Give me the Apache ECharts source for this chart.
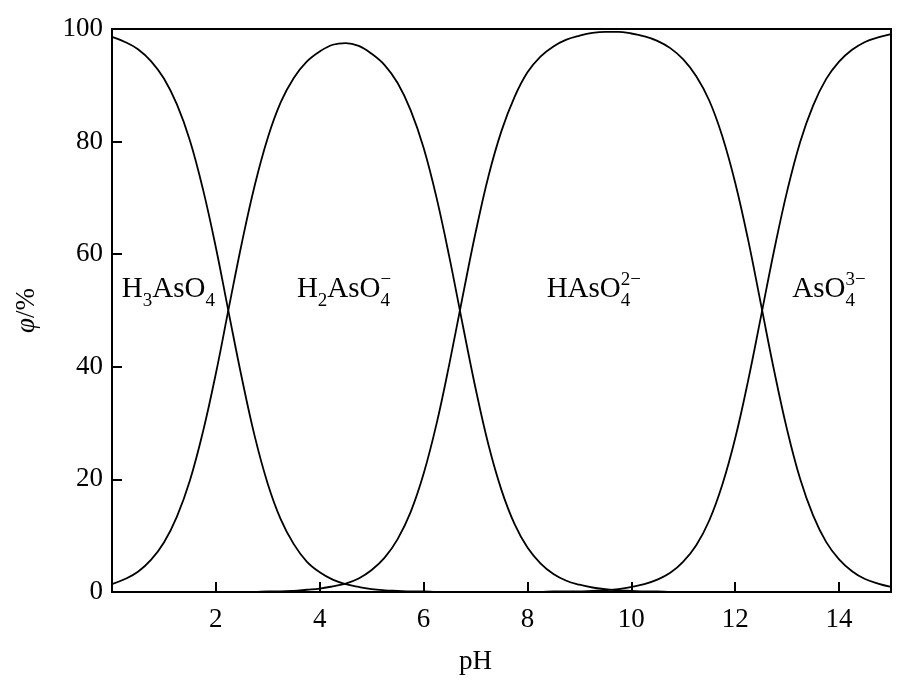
<!DOCTYPE html>
<html>
<head>
<meta charset="utf-8">
<script src="https://cdn.jsdelivr.net/npm/echarts@6/dist/echarts.min.js"></script>
<style>
  html, body { margin: 0; background: #fff; }
  #chart { width: 907px; height: 697px; }
</style>
</head>
<body>
<div id="chart"></div>
<script>
// pH grid (x) and species fractions φ/%
const ph = [
  0, 0.25, 0.5, 0.75, 1, 1.25, 1.5, 1.75, 2, 2.25, 2.5, 2.75,
  3, 3.25, 3.5, 3.75, 4, 4.25, 4.5, 4.75, 5, 5.25, 5.5, 5.75,
  6, 6.25, 6.5, 6.75, 7, 7.25, 7.5, 7.75, 8, 8.25, 8.5, 8.75,
  9, 9.25, 9.5, 9.75, 10, 10.25, 10.5, 10.75, 11, 11.25, 11.5, 11.75,
  12, 12.25, 12.5, 12.75, 13, 13.25, 13.5, 13.75, 14, 14.25, 14.5, 14.75, 15
]
const h3aso4 = [
  98.6, 97.7, 96.4, 94.3, 91.2, 86.6, 80.2, 71.6, 61.2, 49.5, 38.0, 27.6,
  19.2, 12.9, 8.5, 5.4, 3.5, 2.2, 1.4, 0.9, 0.5, 0.3, 0.2, 0.1,
  0.1, 0, 0, 0, 0, 0, 0, 0, 0, 0, 0, 0,
  0, 0, 0, 0, 0, 0, 0, 0, 0, 0, 0, 0,
  0, 0, 0, 0, 0, 0, 0, 0, 0, 0, 0, 0, 0
]
const h2aso4 = [
  1.4, 2.3, 3.6, 5.7, 8.8, 13.4, 19.8, 28.4, 38.8, 50.5, 62.0, 72.3,
  80.7, 87.0, 91.3, 94.2, 96.0, 97.2, 97.5, 97.0, 95.6, 93.6, 90.4, 85.6,
  78.9, 70.0, 59.3, 47.6, 36.2, 26.1, 18.1, 12.1, 7.9, 5.1, 3.2, 2.0,
  1.3, 0.8, 0.5, 0.3, 0.2, 0.1, 0.1, 0, 0, 0, 0, 0,
  0, 0, 0, 0, 0, 0, 0, 0, 0, 0, 0, 0, 0
]
const haso4 = [
  0, 0, 0, 0, 0, 0, 0, 0, 0, 0, 0, 0,
  0.1, 0.1, 0.2, 0.4, 0.6, 1.0, 1.5, 2.4, 3.9, 6.1, 9.4, 14.2,
  21.0, 29.9, 40.7, 52.4, 63.8, 73.9, 81.9, 87.9, 92.3, 95.1, 96.9, 98.1,
  98.8, 99.3, 99.5, 99.5, 99.2, 98.7, 97.9, 96.6, 94.6, 91.6, 87.3, 81.0,
  72.7, 62.5, 50.9, 39.3, 28.8, 20.1, 13.6, 8.9, 5.8, 3.7, 2.3, 1.5, 0.9
]
const aso4 = [
  0, 0, 0, 0, 0, 0, 0, 0, 0, 0, 0, 0,
  0, 0, 0, 0, 0, 0, 0, 0, 0, 0, 0, 0,
  0, 0, 0, 0, 0, 0, 0, 0, 0, 0, 0.1, 0.1,
  0.1, 0.2, 0.3, 0.5, 0.9, 1.4, 2.2, 3.4, 5.4, 8.3, 12.7, 19.0,
  27.3, 37.6, 49.1, 60.7, 71.2, 79.9, 86.4, 91.1, 94.2, 96.3, 97.7, 98.5, 99.1
]

// species names: plain text, subscript, stacked sub/superscript
const speciesLabels = [
  { at: [0.19, 53.8], parts: [{ t: 'H' }, { sub: '3' }, { t: 'AsO' }, { sub: '4' }] },
  { at: [3.56, 53.8], parts: [{ t: 'H' }, { sub: '2' }, { t: 'AsO' }, { sub: '4', sup: '−' }] },
  { at: [8.37, 53.8], parts: [{ t: 'HAsO' }, { sub: '4', sup: '2−' }] },
  { at: [13.1, 53.8], parts: [{ t: 'AsO' }, { sub: '4', sup: '3−' }] }
]

const FONT = '"Liberation Serif", "Times New Roman", serif'
const chart = echarts.init(document.getElementById('chart'))

const pairs = arr => ph.map((x, i) => [x, arr[i]])
const curve = arr => ({
  type: 'line',
  data: pairs(arr),
  showSymbol: false,
  smooth: 0.4,
  lineStyle: { color: '#000', width: 1.8 },
  silent: true
})

chart.setOption({
  backgroundColor: '#fff',
  animation: false,
  grid: {
    left: 112, right: 16, top: 29, bottom: 105,
    show: true, borderColor: '#000', borderWidth: 2
  },
  xAxis: {
    type: 'value',
    min: 0, max: 15, interval: 2,
    name: 'pH',
    nameLocation: 'middle',
    nameGap: 56,
    nameTextStyle: { fontFamily: FONT, fontSize: 27, color: '#000', padding: [0, 52, 0, 0] },
    axisLine: { lineStyle: { color: '#000', width: 2 } },
    axisTick: { inside: true, length: 10, lineStyle: { color: '#000', width: 2 } },
    axisLabel: {
      margin: 14, fontFamily: FONT, fontSize: 27, color: '#000',
      formatter: v => (v > 0 && v < 15 ? v : '')
    },
    splitLine: { show: false }
  },
  yAxis: {
    type: 'value',
    min: 0, max: 100, interval: 20,
    name: '{i|φ}/%',
    nameLocation: 'middle',
    nameGap: 72,
    nameTextStyle: {
      fontFamily: FONT, fontSize: 27, color: '#000',
      rich: { i: { fontFamily: FONT, fontSize: 27, fontStyle: 'italic', color: '#000' } }
    },
    axisLine: { lineStyle: { color: '#000', width: 2 } },
    axisTick: { inside: true, length: 10, lineStyle: { color: '#000', width: 2 } },
    axisLabel: { margin: 9, fontFamily: FONT, fontSize: 27, color: '#000' },
    splitLine: { show: false }
  },
  series: [curve(h3aso4), curve(h2aso4), curve(haso4), curve(aso4)]
})

// build the chemical labels with real sub/superscripts
const ctx = document.createElement('canvas').getContext('2d')
function textWidth(t, size) {
  ctx.font = size + 'px ' + FONT
  return ctx.measureText(t).width
}
function txt(t, x, y, size) {
  return {
    type: 'text', silent: true,
    style: { text: t, x: x, y: y, font: size + 'px ' + FONT, fill: '#000', align: 'left', verticalAlign: 'middle' }
  }
}
const MAIN = 29, SMALL = 19
const elements = []
speciesLabels.forEach(lab => {
  const p = chart.convertToPixel({ gridIndex: 0 }, lab.at)
  let x = p[0]
  const y = p[1]
  lab.parts.forEach(part => {
    if (part.t) {
      elements.push(txt(part.t, x, y, MAIN))
      x += textWidth(part.t, MAIN)
    } else {
      let w = 0
      if (part.sub) {
        elements.push(txt(part.sub, x, y + 12, SMALL))
        w = textWidth(part.sub, SMALL)
      }
      if (part.sup) {
        elements.push(txt(part.sup, x, y - 9, SMALL))
        w = Math.max(w, textWidth(part.sup, SMALL))
      }
      x += w
    }
  })
})
chart.setOption({ graphic: elements })
</script>
</body>
</html>
